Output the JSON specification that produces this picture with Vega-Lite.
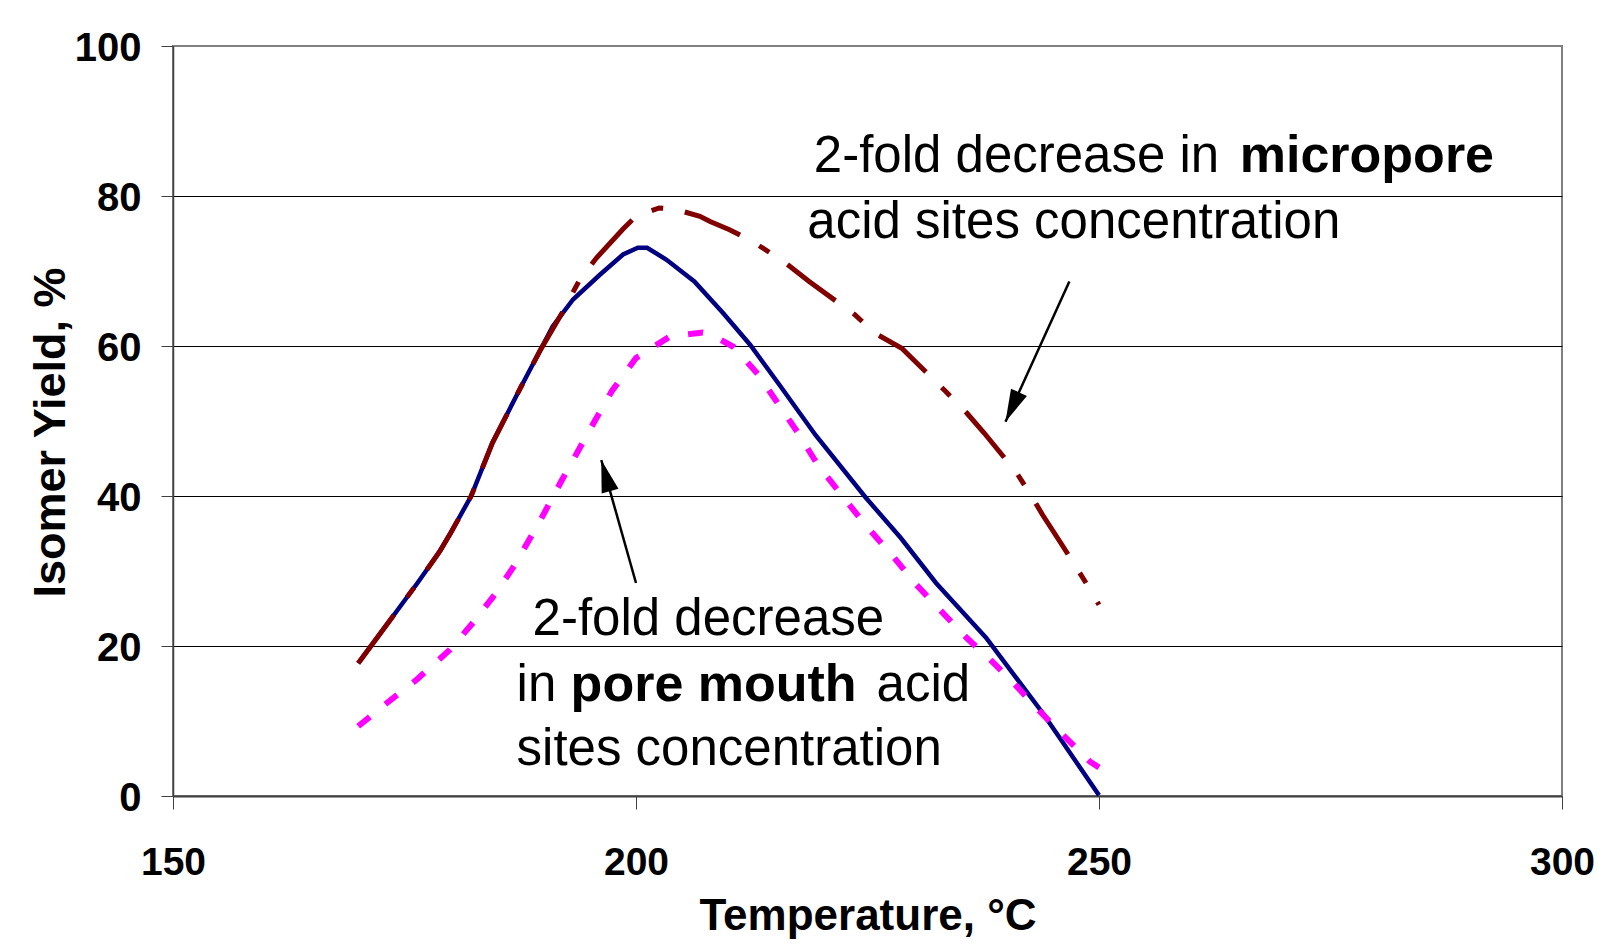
{
  "$schema": "https://vega.github.io/schema/vega-lite/v6.json",
  "width": 1389,
  "height": 750,
  "autosize": {"type": "none"},
  "padding": {"left": 173, "top": 46, "right": 37, "bottom": 151},
  "background": "white",
  "config": {
    "font": "Liberation Sans",
    "view": {"stroke": "#808080", "strokeWidth": 2}
  },
  "datasets": {
    "curves": [
      {"series": "base", "T": 170, "Y": 17.7},
      {"series": "base", "T": 172.7, "Y": 22.2},
      {"series": "base", "T": 176.4, "Y": 28.4},
      {"series": "base", "T": 178.8, "Y": 32.6},
      {"series": "base", "T": 180, "Y": 35.1},
      {"series": "base", "T": 182.2, "Y": 40.0},
      {"series": "base", "T": 184.5, "Y": 47.1},
      {"series": "base", "T": 187.6, "Y": 54.6},
      {"series": "base", "T": 189.6, "Y": 59.3},
      {"series": "base", "T": 191.0, "Y": 62.6},
      {"series": "base", "T": 193.2, "Y": 66.2},
      {"series": "base", "T": 196.1, "Y": 69.5},
      {"series": "base", "T": 198.6, "Y": 72.2},
      {"series": "base", "T": 200.2, "Y": 73.1},
      {"series": "base", "T": 201.2, "Y": 73.1},
      {"series": "base", "T": 203.3, "Y": 71.5},
      {"series": "base", "T": 206.3, "Y": 68.6},
      {"series": "base", "T": 209.4, "Y": 64.4},
      {"series": "base", "T": 212.3, "Y": 60.2},
      {"series": "base", "T": 215.5, "Y": 54.8},
      {"series": "base", "T": 219.4, "Y": 48.1},
      {"series": "base", "T": 224.8, "Y": 39.8},
      {"series": "base", "T": 228.6, "Y": 34.4},
      {"series": "base", "T": 232.4, "Y": 28.4},
      {"series": "base", "T": 237.8, "Y": 21.1},
      {"series": "base", "T": 243.9, "Y": 11.1},
      {"series": "base", "T": 250, "Y": 0.1},
      {"series": "micropore", "T": 170, "Y": 17.7},
      {"series": "micropore", "T": 172.7, "Y": 22.2},
      {"series": "micropore", "T": 176.4, "Y": 28.4},
      {"series": "micropore", "T": 178.8, "Y": 32.6},
      {"series": "micropore", "T": 180, "Y": 35.1},
      {"series": "micropore", "T": 182.2, "Y": 40.0},
      {"series": "micropore", "T": 184.5, "Y": 47.1},
      {"series": "micropore", "T": 187.6, "Y": 54.6},
      {"series": "micropore", "T": 189.6, "Y": 59.3},
      {"series": "micropore", "T": 192.1, "Y": 64.6},
      {"series": "micropore", "T": 193.9, "Y": 68.8},
      {"series": "micropore", "T": 195.7, "Y": 71.7},
      {"series": "micropore", "T": 198.6, "Y": 75.6},
      {"series": "micropore", "T": 200, "Y": 77.3},
      {"series": "micropore", "T": 202.5, "Y": 78.4},
      {"series": "micropore", "T": 204.3, "Y": 78.2},
      {"series": "micropore", "T": 206.9, "Y": 77.3},
      {"series": "micropore", "T": 208, "Y": 76.6},
      {"series": "micropore", "T": 210.1, "Y": 75.5},
      {"series": "micropore", "T": 212.5, "Y": 74.0},
      {"series": "micropore", "T": 215.9, "Y": 71.3},
      {"series": "micropore", "T": 218.7, "Y": 68.6},
      {"series": "micropore", "T": 223.6, "Y": 64.2},
      {"series": "micropore", "T": 225.8, "Y": 61.7},
      {"series": "micropore", "T": 228.7, "Y": 59.7},
      {"series": "micropore", "T": 233.4, "Y": 54.0},
      {"series": "micropore", "T": 235.7, "Y": 51.1},
      {"series": "micropore", "T": 237.6, "Y": 48.4},
      {"series": "micropore", "T": 241.1, "Y": 43.1},
      {"series": "micropore", "T": 242.7, "Y": 40.0},
      {"series": "micropore", "T": 243.9, "Y": 37.5},
      {"series": "micropore", "T": 246.1, "Y": 33.3},
      {"series": "micropore", "T": 248.4, "Y": 28.8},
      {"series": "micropore", "T": 250, "Y": 25.5},
      {"series": "poremouth", "T": 170, "Y": 9.3},
      {"series": "poremouth", "T": 173.2, "Y": 12.5},
      {"series": "poremouth", "T": 176.3, "Y": 15.5},
      {"series": "poremouth", "T": 179.9, "Y": 19.5},
      {"series": "poremouth", "T": 182.4, "Y": 23.1},
      {"series": "poremouth", "T": 184.9, "Y": 27.1},
      {"series": "poremouth", "T": 186.9, "Y": 30.8},
      {"series": "poremouth", "T": 189.6, "Y": 36.6},
      {"series": "poremouth", "T": 191.9, "Y": 41.9},
      {"series": "poremouth", "T": 193.7, "Y": 45.9},
      {"series": "poremouth", "T": 195.5, "Y": 49.9},
      {"series": "poremouth", "T": 197.4, "Y": 54.0},
      {"series": "poremouth", "T": 200.0, "Y": 58.4},
      {"series": "poremouth", "T": 203.7, "Y": 61.3},
      {"series": "poremouth", "T": 207.2, "Y": 61.8},
      {"series": "poremouth", "T": 208.0, "Y": 61.6},
      {"series": "poremouth", "T": 210.5, "Y": 59.9},
      {"series": "poremouth", "T": 213.2, "Y": 56.2},
      {"series": "poremouth", "T": 215.4, "Y": 52.2},
      {"series": "poremouth", "T": 217.5, "Y": 48.4},
      {"series": "poremouth", "T": 219.6, "Y": 44.2},
      {"series": "poremouth", "T": 222.6, "Y": 39.5},
      {"series": "poremouth", "T": 225.0, "Y": 35.8},
      {"series": "poremouth", "T": 227.6, "Y": 32.2},
      {"series": "poremouth", "T": 230.1, "Y": 28.4},
      {"series": "poremouth", "T": 233.3, "Y": 24.2},
      {"series": "poremouth", "T": 235.7, "Y": 21.1},
      {"series": "poremouth", "T": 238.4, "Y": 18.0},
      {"series": "poremouth", "T": 240.9, "Y": 14.9},
      {"series": "poremouth", "T": 243.2, "Y": 11.8},
      {"series": "poremouth", "T": 245.9, "Y": 8.4},
      {"series": "poremouth", "T": 249.0, "Y": 4.6},
      {"series": "poremouth", "T": 250, "Y": 3.8}
    ],
    "notes": [
      {"text": "2-fold decrease in", "T": 219.2, "Y": 83.25},
      {"text": "acid sites concentration", "T": 218.5, "Y": 74.4},
      {"text": "2-fold decrease", "T": 188.83, "Y": 21.52},
      {"text": "in", "T": 187.1, "Y": 12.63},
      {"text": "acid", "T": 225.98, "Y": 12.63},
      {"text": "sites concentration", "T": 187.1, "Y": 4.2}
    ],
    "boldnotes": [
      {"text": "micropore", "T": 265.2, "Y": 83.25},
      {"text": "pore mouth", "T": 192.94, "Y": 12.63}
    ],
    "arrows": [
      {"id": "a1", "T1": 246.8, "Y1": 68.6, "T2": 239.9, "Y2": 49.9},
      {"id": "a2", "T1": 200.0, "Y1": 28.4, "T2": 196.25, "Y2": 44.8}
    ]
  },
  "layer": [
    {
      "data": {"name": "curves"},
      "transform": [{"filter": "datum.series === 'base'"}],
      "mark": {"type": "line", "color": "#000080", "strokeWidth": 4.5, "interpolate": "linear"},
      "encoding": {
        "x": {
          "field": "T", "type": "quantitative",
          "scale": {"domain": [150, 300], "nice": false, "zero": false},
          "axis": {
            "values": [150, 200, 250, 300],
            "title": "Temperature, °C",
            "grid": false,
            "tickSize": 13,
            "tickColor": "#404040",
            "tickWidth": 1,
            "domainColor": "#404040",
            "domainWidth": 2,
            "labelFont": "Liberation Sans",
            "labelFontWeight": "bold",
            "labelFontSize": 39,
            "labelColor": "black",
            "labelPadding": 34,
            "labelFlush": false,
            "titleFont": "Liberation Sans",
            "titleFontSize": 44,
            "titleFontWeight": "bold",
            "titleColor": "black",
            "titlePadding": 12
          }
        },
        "y": {
          "field": "Y", "type": "quantitative",
          "scale": {"domain": [0, 100], "nice": false},
          "axis": {
            "values": [0, 20, 40, 60, 80, 100],
            "title": "Isomer Yield, %",
            "grid": true,
            "gridColor": "black",
            "gridWidth": 1,
            "gridOpacity": {"condition": {"test": "datum.value === 100 || datum.value === 0", "value": 0}, "value": 1},
            "tickSize": 12,
            "tickColor": "#404040",
            "tickWidth": 1,
            "domainColor": "#404040",
            "domainWidth": 1.5,
            "labelFont": "Liberation Sans",
            "labelFontWeight": "bold",
            "labelFontSize": 40,
            "labelColor": "black",
            "labelPadding": 20,
            "labelOffset": 2,
            "titleFont": "Liberation Sans",
            "titleFontSize": 45,
            "titleFontWeight": "bold",
            "titleColor": "black",
            "titlePadding": 1,
            "titleY": 386
          }
        }
      }
    },
    {
      "data": {"name": "curves"},
      "transform": [{"filter": "datum.series === 'micropore'"}],
      "mark": {"type": "line", "color": "#800000", "strokeWidth": 5, "strokeDash": [60, 22, 12, 22]},
      "encoding": {
        "x": {"field": "T", "type": "quantitative"},
        "y": {"field": "Y", "type": "quantitative"}
      }
    },
    {
      "data": {"name": "curves"},
      "transform": [{"filter": "datum.series === 'poremouth'"}],
      "mark": {"type": "line", "color": "#FF00FF", "strokeWidth": 6, "strokeDash": [15, 20]},
      "encoding": {
        "x": {"field": "T", "type": "quantitative"},
        "y": {"field": "Y", "type": "quantitative"}
      }
    },
    {
      "data": {"name": "arrows"},
      "mark": {"type": "rule", "color": "black", "strokeWidth": 2.5},
      "encoding": {
        "x": {"field": "T1", "type": "quantitative"},
        "y": {"field": "Y1", "type": "quantitative"},
        "x2": {"field": "T2"},
        "y2": {"field": "Y2"}
      }
    },
    {
      "data": {"name": "arrows"},
      "transform": [{"filter": "datum.id === 'a1'"}],
      "mark": {"type": "point", "shape": "M0,0L0.27,1L-0.27,1Z", "size": 4200, "filled": true, "color": "black", "opacity": 1, "angle": 204.6, "strokeWidth": 0},
      "encoding": {
        "x": {"field": "T2", "type": "quantitative"},
        "y": {"field": "Y2", "type": "quantitative"}
      }
    },
    {
      "data": {"name": "arrows"},
      "transform": [{"filter": "datum.id === 'a2'"}],
      "mark": {"type": "point", "shape": "M0,0L0.27,1L-0.27,1Z", "size": 4200, "filled": true, "color": "black", "opacity": 1, "angle": 344.2, "strokeWidth": 0},
      "encoding": {
        "x": {"field": "T2", "type": "quantitative"},
        "y": {"field": "Y2", "type": "quantitative"}
      }
    },
    {
      "data": {"name": "notes"},
      "mark": {"type": "text", "font": "Liberation Sans", "fontSize": 51, "align": "left", "baseline": "alphabetic", "color": "black"},
      "encoding": {
        "x": {"field": "T", "type": "quantitative"},
        "y": {"field": "Y", "type": "quantitative"},
        "text": {"field": "text"}
      }
    },
    {
      "data": {"name": "boldnotes"},
      "mark": {"type": "text", "font": "Liberation Sans", "fontSize": 52, "fontWeight": "bold", "align": "left", "baseline": "alphabetic", "color": "black"},
      "encoding": {
        "x": {"field": "T", "type": "quantitative"},
        "y": {"field": "Y", "type": "quantitative"},
        "text": {"field": "text"}
      }
    }
  ]
}
